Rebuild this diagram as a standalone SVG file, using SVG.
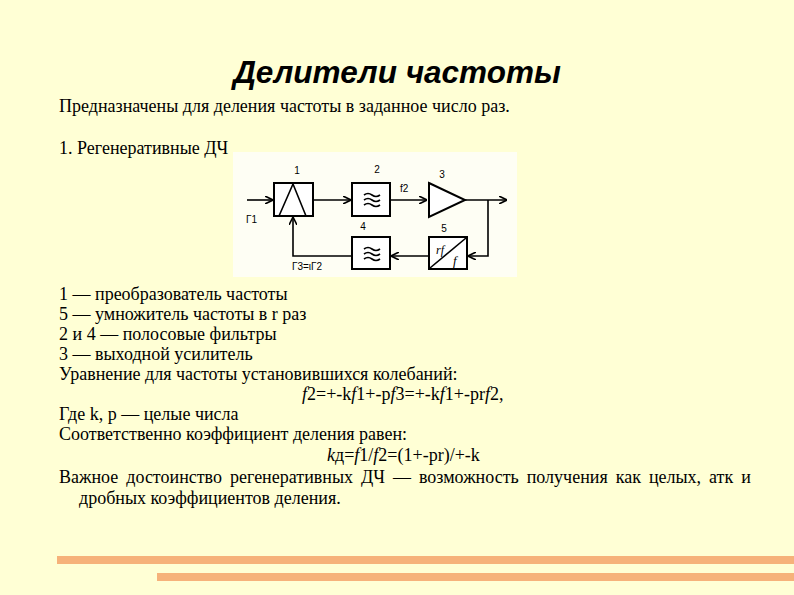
<svg xmlns="http://www.w3.org/2000/svg" width="794" height="595" viewBox="0 0 794 595">
<style>
.d{font-family:'Liberation Sans',sans-serif;font-size:10px;fill:#000}
.b{fill:#fff;stroke:#000;stroke-width:2}
.l{fill:none;stroke:#000;stroke-width:1.6}
</style>
<defs><marker id="a" markerWidth="8" markerHeight="8" refX="7" refY="4" orient="auto" markerUnits="userSpaceOnUse"><path d="M0,0 L8,4 L0,8" fill="none" stroke="#000" stroke-width="1.6"/></marker></defs>
<rect width="794" height="595" fill="#FFFFD5"/>
<text x="397" y="83" text-anchor="middle" font-family="'Liberation Sans',Arial,sans-serif" font-size="31.5" font-weight="bold" font-style="italic">Делители частоты</text>
<rect x="233" y="152" width="284" height="125" fill="#FEFEF4"/>
<g id="connectors">
<path class="l" d="M247,200 H272" marker-end="url(#a)"/>
<path class="l" d="M313,200 H350" marker-end="url(#a)"/>
<path class="l" d="M390,200 H426" marker-end="url(#a)"/>
<path class="l" d="M465,200 H506" marker-end="url(#a)"/>
<path class="l" d="M488,200 V256 H469" marker-end="url(#a)"/>
<path class="l" d="M429,256 H392" marker-end="url(#a)"/>
<path class="l" d="M352,256 H293 V218" marker-end="url(#a)"/>
</g>
<g id="n1"><rect class="b" x="274" y="183" width="39" height="33"/><path class="l" d="M279,216 L293,184 L306,216"/><text class="d" x="297" y="174" text-anchor="middle">1</text></g>
<g id="n2"><rect class="b" x="352" y="183" width="38" height="33"/><path class="l" d="M364,195 q4,-3 8,0 t8,0 M364,200 q4,-3 8,0 t8,0 M364,205 q4,-3 8,0 t8,0"/><text class="d" x="377" y="173" text-anchor="middle">2</text><text class="d" x="400" y="192">f2</text></g>
<g id="n3"><path class="b" d="M429,183 L465,200 L429,217 Z"/><text class="d" x="442" y="178" text-anchor="middle">3</text></g>
<g id="n4"><rect class="b" x="352" y="237" width="38" height="32"/><path class="l" d="M364,249 q4,-3 8,0 t8,0 M364,254 q4,-3 8,0 t8,0 M364,259 q4,-3 8,0 t8,0"/><text class="d" x="363" y="230" text-anchor="middle">4</text></g>
<g id="n5"><rect class="b" x="429" y="237" width="38" height="32"/><path class="l" d="M430,268 L466,238"/><text x="436" y="254" font-family="'Liberation Serif',serif" font-style="italic" font-size="12">rf</text><text x="453" y="265" font-family="'Liberation Serif',serif" font-style="italic" font-size="13">f</text><text class="d" x="444" y="232" text-anchor="middle">5</text></g>
<text class="d" x="246" y="223">Г1</text>
<text class="d" x="292" y="270">Г3=ιГ2</text>
<g font-family="'Liberation Serif',serif" font-size="18" fill="#000">
<text x="59" y="112">Предназначены для деления частоты в заданное число раз.</text>
<text x="59" y="154">1. Регенеративные ДЧ</text>
<text x="59" y="300">1 — преобразователь частоты</text>
<text x="59" y="320">5 — умножитель частоты в r раз</text>
<text x="59" y="340">2 и 4 — полосовые фильтры</text>
<text x="59" y="360">3 — выходной усилитель</text>
<text x="59" y="380">Уравнение для частоты установившихся колебаний:</text>
<text x="302" y="400"><tspan font-style="italic">f</tspan>2=+-k<tspan font-style="italic">f</tspan>1+-p<tspan font-style="italic">f</tspan>3=+-k<tspan font-style="italic">f</tspan>1+-pr<tspan font-style="italic">f</tspan>2,</text>
<text x="59" y="420">Где k, p — целые числа</text>
<text x="59" y="440">Соответственно коэффициент деления равен:</text>
<text x="327" y="461"><tspan font-style="italic">k</tspan>д=<tspan font-style="italic">f</tspan>1/<tspan font-style="italic">f</tspan>2=(1+-pr)/+-k</text>
<text x="59" y="483" word-spacing="3.5">Важное достоинство регенеративных ДЧ — возможность получения как целых, атк и</text>
<text x="79" y="504">дробных коэффициентов деления.</text>
</g>
<rect x="57" y="556" width="737" height="8" fill="#F6B27A"/>
<rect x="157" y="573" width="637" height="8" fill="#F6B27A"/>
</svg>
